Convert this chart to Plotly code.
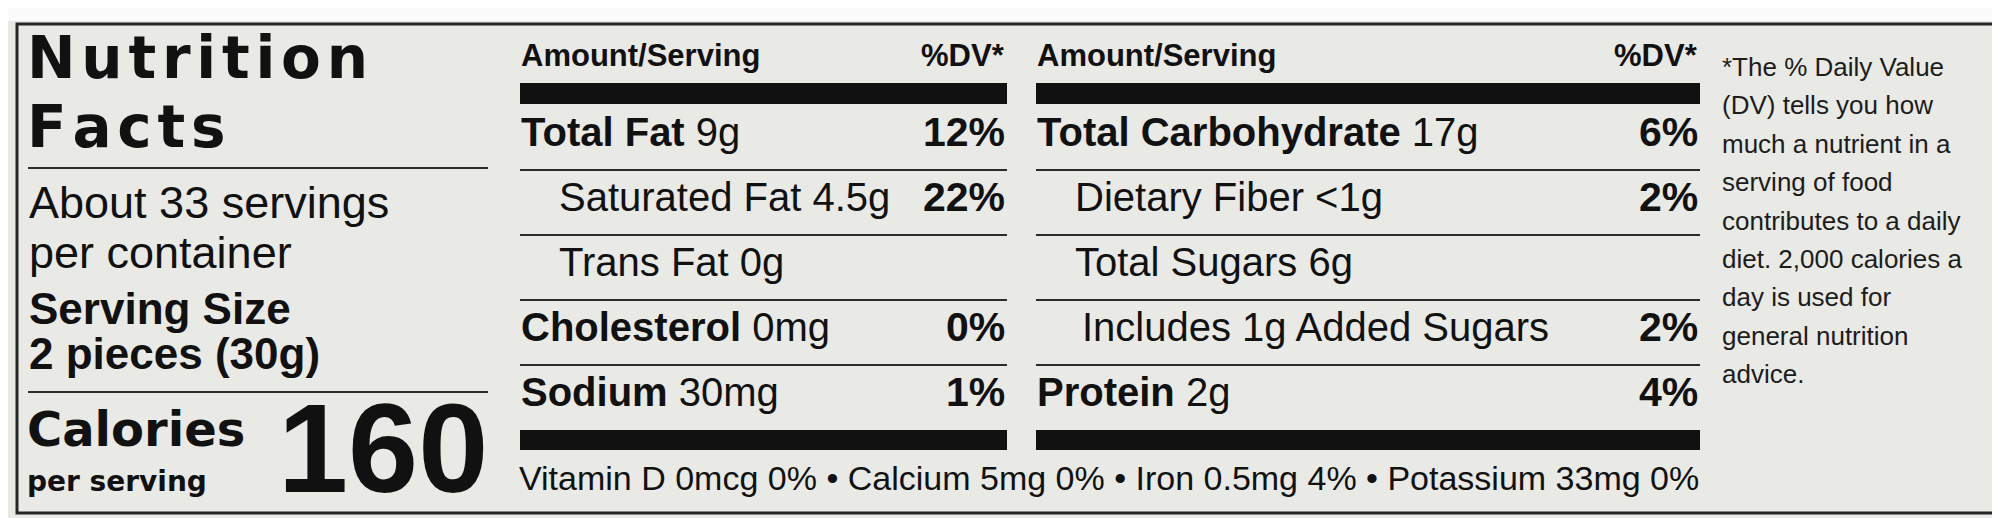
import plotly.graph_objects as go

# label values
servings = "About 33 servings"
servings_unit = "per container"
serving_size = "2 pieces (30g)"
calories = "160"

left_names = ["Total Fat", "Saturated Fat", "Trans Fat", "Cholesterol", "Sodium"]
left_amounts = ["9g", "4.5g", "0g", "0mg", "30mg"]
left_dv = ["12%", "22%", "", "0%", "1%"]
left_level = [0, 1, 1, 0, 0]

right_names = ["Total Carbohydrate", "Dietary Fiber", "Total Sugars", "Added Sugars", "Protein"]
right_amounts = ["17g", "<1g", "6g", "1g", "2g"]
right_dv = ["6%", "2%", "", "2%", "4%"]
right_level = [0, 1, 1, 2, 0]

vitamins = ["Vitamin D", "Calcium", "Iron", "Potassium"]
vitamin_amounts = ["0mcg", "5mg", "0.5mg", "33mg"]
vitamin_dv = ["0%", "0%", "4%", "0%"]

footnote = ["*The % Daily Value", "(DV) tells you how", "much a nutrient in a",
            "serving of food", "contributes to a daily", "diet. 2,000 calories a",
            "day is used for", "general nutrition", "advice."]

# layout (pixel units, y grows downward)
W, H = 2000, 518
SANS = "Liberation Sans, Arial, sans-serif"
HEAVY = "DejaVu Sans, sans-serif"
INK = "#111111"
BG = "#e9e9e6"

annotations = []
shapes = []


def text(x, y, s, size, family=SANS, anchor="left", color=INK):
    annotations.append(dict(x=x, y=y, xref="x", yref="y", text=s, showarrow=False,
                            xanchor=anchor, yanchor="middle", borderpad=0,
                            font=dict(family=family, size=size, color=color)))


def rule(x0, x1, y, width=2):
    shapes.append(dict(type="line", xref="x", yref="y", x0=x0, x1=x1, y0=y, y1=y,
                       line=dict(color="#2b2b2b", width=width)))


def bar(x0, x1, y0, y1):
    shapes.append(dict(type="rect", xref="x", yref="y", x0=x0, x1=x1, y0=y0, y1=y1,
                       fillcolor=INK, line=dict(width=0)))


def spaced(word):
    # wide tracking like the printed heading
    return "\u200a".join(word)


# white strip above the label and the outer frame
shapes.append(dict(type="rect", xref="x", yref="y", x0=0, x1=W, y0=0, y1=13,
                   fillcolor="#fbfbfb", line=dict(width=0)))
shapes.append(dict(type="rect", xref="x", yref="y", x0=9, x1=1990, y0=16, y1=505,
                   line=dict(color="#262626", width=3)))

# left panel
text(18, 50, "<b>" + spaced("Nutrition") + "</b>", 58, HEAVY)
text(18, 119, "<b>" + spaced("Facts") + "</b>", 58, HEAVY)
rule(20, 480, 160)
text(20, 194, servings, 45)
text(20, 244, servings_unit, 45)
text(20, 300, "<b>Serving Size</b>", 44)
text(20, 345, "<b>" + serving_size + "</b>", 44)
rule(20, 480, 384)
text(18, 421, "<b>Calories</b>", 48, HEAVY)
text(18, 473, "<b>per serving</b>", 28, HEAVY)
text(481, 440, "<b>" + calories + "</b>", 126, anchor="right")

# two nutrient columns
columns = [
    (512, 999, left_names, left_amounts, left_dv, left_level),
    (1028, 1692, right_names, right_amounts, right_dv, right_level),
]
indent = [0, 38, 45]
row0, pitch = 124, 65
for x0, x1, names, amounts, dvs, levels in columns:
    text(x0, 47, "<b>Amount/Serving</b>", 31)
    text(x1 - 1, 47, "<b>%DV*</b>", 31, anchor="right")
    bar(x0, x1, 75, 96)
    for i, (name, amt, dv, lvl) in enumerate(zip(names, amounts, dvs, levels)):
        y = row0 + i * pitch
        if lvl == 0:
            s = "<b>" + name + "</b> " + amt
        elif lvl == 1:
            s = name + " " + amt
        else:
            s = "Includes " + amt + " " + name
        text(x0 + indent[lvl], y, s, 40)
        if dv:
            text(x1 - 1, y, "<b>" + dv + "</b>", 41, anchor="right")
        if i < len(names) - 1:
            rule(x0, x1, y + 38)
    bar(x0, x1, 422, 442)

# vitamins and minerals line
vit_line = " \u2022 ".join(n + " " + a + " " + d for n, a, d in zip(vitamins, vitamin_amounts, vitamin_dv))
text(510, 470, vit_line, 34)

# footnote
for i, line in enumerate(footnote):
    text(1713, 59 + i * 38.4, line, 26, color="#1c1c1c")

fig = go.Figure()
fig.update_layout(
    width=W, height=H,
    margin=dict(l=0, r=0, t=0, b=0),
    paper_bgcolor=BG, plot_bgcolor=BG,
    xaxis=dict(range=[0, W], visible=False, fixedrange=True),
    yaxis=dict(range=[H, 0], visible=False, fixedrange=True),
    shapes=shapes, annotations=annotations,
    showlegend=False,
)

fig.write_html("out.html")
